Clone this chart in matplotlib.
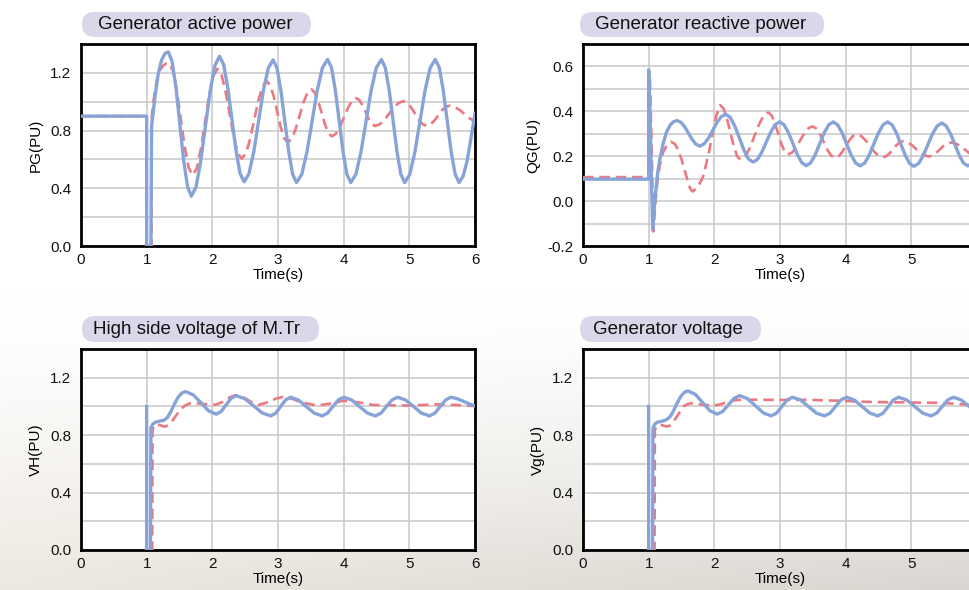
import numpy as np
import matplotlib
matplotlib.use('Agg')
import matplotlib.pyplot as plt
from matplotlib.patches import FancyBboxPatch
from matplotlib.ticker import MultipleLocator, FixedLocator, FormatStrFormatter

# Values (time in s, values in PU)
# "a" = solid blue curve, "b" = dashed red curve

# Generator active power
pg_a_t = [0, 1.0, 1.0, 1.065, 1.075, 1.10, 1.127, 1.178, 1.228, 1.28, 1.33,
          1.388, 1.447, 1.505, 1.563, 1.622, 1.68,
          1.752, 1.823, 1.895, 1.967, 2.038, 2.11,
          2.172, 2.235, 2.298, 2.36, 2.422, 2.485,
          2.558, 2.632, 2.705, 2.778, 2.852, 2.925,
          2.985, 3.044, 3.104, 3.164, 3.223, 3.283,
          3.362, 3.441, 3.52, 3.598, 3.677, 3.756,
          3.815, 3.873, 3.932, 3.991, 4.049, 4.108,
          4.186, 4.264, 4.342, 4.419, 4.497, 4.575,
          4.634, 4.693, 4.753, 4.812, 4.871, 4.93,
          5.008, 5.085, 5.163, 5.24, 5.318, 5.395,
          5.456, 5.516, 5.577, 5.637, 5.698, 5.758,
          5.82, 5.88, 5.94, 6.0]
pg_a_v = [0.9, 0.9, 0.0, 0.0, 0.83, 0.93, 1.035, 1.197, 1.29, 1.335, 1.345,
          1.278, 1.095, 0.845, 0.595, 0.412, 0.345,
          0.41, 0.588, 0.83, 1.073, 1.25, 1.315,
          1.257, 1.098, 0.88, 0.663, 0.503, 0.445,
          0.502, 0.656, 0.868, 1.079, 1.233, 1.29,
          1.233, 1.078, 0.865, 0.653, 0.497, 0.44,
          0.497, 0.653, 0.867, 1.08, 1.236, 1.293,
          1.236, 1.08, 0.867, 0.653, 0.497, 0.44,
          0.497, 0.653, 0.867, 1.08, 1.236, 1.293,
          1.236, 1.08, 0.867, 0.653, 0.497, 0.44,
          0.497, 0.653, 0.867, 1.08, 1.236, 1.293,
          1.236, 1.08, 0.867, 0.653, 0.497, 0.44,
          0.485, 0.59, 0.75, 0.92]
pg_b_t = [0, 1.0, 1.0, 1.072, 1.078, 1.10, 1.127, 1.16, 1.2, 1.25, 1.30, 1.34,
          1.40, 1.46, 1.52, 1.58, 1.64, 1.70,
          1.763, 1.826, 1.889, 1.952, 2.015, 2.078,
          2.14, 2.201, 2.263, 2.324, 2.386, 2.447,
          2.511, 2.574, 2.638, 2.701, 2.765, 2.828,
          2.881, 2.935, 2.988, 3.041, 3.095, 3.148,
          3.208, 3.268, 3.328, 3.387, 3.447, 3.507,
          3.559, 3.611, 3.664, 3.716, 3.768, 3.82,
          3.882, 3.943, 4.005, 4.067, 4.128, 4.19,
          4.238, 4.286, 4.334, 4.382, 4.43, 4.478,
          4.55, 4.622, 4.694, 4.766, 4.838, 4.91,
          4.969, 5.027, 5.086, 5.145, 5.203, 5.262,
          5.319, 5.376, 5.434, 5.491, 5.548, 5.605,
          5.68, 5.76, 5.84, 5.92, 6.0]
pg_b_v = [0.9, 0.9, 0.0, 0.0, 0.9, 0.99, 1.08, 1.16, 1.215, 1.25, 1.265, 1.268,
          1.216, 1.074, 0.879, 0.685, 0.542, 0.49,
          0.539, 0.675, 0.859, 1.044, 1.179, 1.228,
          1.186, 1.072, 0.917, 0.761, 0.647, 0.605,
          0.641, 0.74, 0.874, 1.009, 1.107, 1.143,
          1.115, 1.037, 0.931, 0.824, 0.746, 0.718,
          0.743, 0.81, 0.902, 0.994, 1.061, 1.086,
          1.064, 1.005, 0.923, 0.842, 0.782, 0.76,
          0.778, 0.826, 0.893, 0.959, 1.007, 1.025,
          1.012, 0.977, 0.929, 0.88, 0.845, 0.832,
          0.844, 0.875, 0.918, 0.961, 0.992, 1.004,
          0.992, 0.961, 0.918, 0.875, 0.844, 0.832,
          0.841, 0.867, 0.902, 0.937, 0.963, 0.972,
          0.965, 0.945, 0.915, 0.885, 0.86]

# Generator reactive power
qg_a_t = [0, 1.0, 1.0, 1.02, 1.04, 1.062,
          1.08, 1.11, 1.14, 1.17, 1.22, 1.27, 1.33, 1.38, 1.435,
          1.4925, 1.55, 1.6075, 1.665, 1.7225, 1.78,
          1.846, 1.912, 1.978, 2.043, 2.109, 2.175,
          2.244, 2.313, 2.383, 2.452, 2.521, 2.59,
          2.658, 2.725, 2.793, 2.86, 2.928, 2.995,
          3.063, 3.13, 3.198, 3.265, 3.333, 3.40,
          3.468, 3.537, 3.605, 3.673, 3.742, 3.81,
          3.878, 3.947, 4.015, 4.083, 4.152, 4.22,
          4.29, 4.36, 4.43, 4.5, 4.57, 4.64,
          4.707, 4.773, 4.84, 4.907, 4.973, 5.04,
          5.111, 5.182, 5.253, 5.323, 5.394, 5.465,
          5.531, 5.597, 5.663, 5.728, 5.794, 5.86,
          5.93, 6.0]
qg_a_v = [0.098, 0.098, 0.585, 0.40, 0.13, -0.128,
          -0.05, 0.05, 0.13, 0.186, 0.255, 0.306, 0.34, 0.354, 0.359,
          0.351, 0.331, 0.302, 0.274, 0.253, 0.245,
          0.255, 0.281, 0.316, 0.352, 0.377, 0.387,
          0.373, 0.334, 0.281, 0.227, 0.188, 0.174,
          0.186, 0.219, 0.264, 0.308, 0.341, 0.353,
          0.34, 0.304, 0.256, 0.207, 0.171, 0.158,
          0.171, 0.207, 0.256, 0.304, 0.34, 0.353,
          0.34, 0.304, 0.255, 0.206, 0.17, 0.157,
          0.17, 0.206, 0.255, 0.304, 0.34, 0.353,
          0.34, 0.304, 0.254, 0.205, 0.168, 0.155,
          0.168, 0.203, 0.252, 0.3, 0.335, 0.348,
          0.335, 0.3, 0.253, 0.205, 0.17, 0.157,
          0.17, 0.205]
qg_b_t = [0, 1.0, 1.005, 1.02, 1.045, 1.072,
          1.10, 1.13, 1.17, 1.22, 1.28, 1.34,
          1.40, 1.45, 1.50, 1.55, 1.60, 1.635, 1.67,
          1.72, 1.78, 1.83, 1.88, 1.93, 1.98, 2.03, 2.09,
          2.142, 2.193, 2.245, 2.297, 2.348, 2.40,
          2.47, 2.541, 2.611, 2.681, 2.752, 2.822,
          2.872, 2.921, 2.971, 3.021, 3.07, 3.12,
          3.183, 3.245, 3.308, 3.37, 3.433, 3.495,
          3.552, 3.609, 3.667, 3.724, 3.781, 3.838,
          3.893, 3.948, 4.003, 4.058, 4.113, 4.168,
          4.234, 4.3, 4.367, 4.433, 4.499, 4.565,
          4.617, 4.669, 4.721, 4.773, 4.825, 4.877,
          4.942, 5.006, 5.071, 5.136, 5.2, 5.265,
          5.321, 5.377, 5.433, 5.488, 5.544, 5.60,
          5.66, 5.72, 5.78, 5.84, 5.9, 6.0]
qg_b_v = [0.107, 0.107, 0.58, 0.55, 0.25, -0.135,
          -0.02, 0.08, 0.16, 0.217, 0.25, 0.264,
          0.255, 0.228, 0.187, 0.135, 0.085, 0.055, 0.043,
          0.055, 0.08, 0.11, 0.17, 0.235, 0.31, 0.38, 0.428,
          0.412, 0.367, 0.306, 0.245, 0.2, 0.184,
          0.198, 0.237, 0.29, 0.342, 0.381, 0.395,
          0.382, 0.348, 0.302, 0.255, 0.221, 0.208,
          0.216, 0.239, 0.271, 0.302, 0.325, 0.333,
          0.324, 0.298, 0.263, 0.228, 0.202, 0.193,
          0.2, 0.219, 0.246, 0.272, 0.291, 0.298,
          0.291, 0.272, 0.247, 0.221, 0.202, 0.195,
          0.2, 0.213, 0.231, 0.249, 0.262, 0.267,
          0.262, 0.25, 0.233, 0.216, 0.204, 0.199,
          0.203, 0.215, 0.23, 0.246, 0.257, 0.261,
          0.258, 0.25, 0.238, 0.224, 0.21, 0.196]

# High side voltage of M.Tr
vh_a_t = [1.0, 1.0, 1.058, 1.064, 1.09, 1.13, 1.2, 1.27, 1.32, 1.37, 1.42, 1.48, 1.54, 1.595,
          1.711, 1.828, 1.944, 2.06,
          2.135, 2.21, 2.285, 2.36,
          2.493, 2.625, 2.758, 2.89,
          2.965, 3.04, 3.115, 3.19,
          3.31, 3.431, 3.552, 3.672,
          3.754, 3.836, 3.918, 4.0,
          4.121, 4.242, 4.363, 4.484,
          4.568, 4.652, 4.736, 4.82,
          4.942, 5.064, 5.185, 5.307,
          5.389, 5.47, 5.552, 5.633,
          5.72, 5.81, 5.9, 6.0]
vh_a_v = [1.0, 0.0, 0.0, 0.85, 0.875, 0.89, 0.898, 0.905, 0.925, 0.965, 1.015, 1.065, 1.095, 1.103,
          1.08, 1.025, 0.969, 0.946,
          0.965, 1.011, 1.056, 1.075,
          1.054, 1.005, 0.955, 0.934,
          0.953, 0.999, 1.045, 1.064,
          1.045, 0.999, 0.953, 0.934,
          0.953, 0.999, 1.045, 1.064,
          1.045, 0.999, 0.953, 0.934,
          0.953, 0.999, 1.045, 1.064,
          1.045, 0.999, 0.953, 0.934,
          0.953, 0.999, 1.045, 1.064,
          1.055, 1.038, 1.02, 1.003]
vh_b_t = [1.0, 1.0, 1.085, 1.09, 1.13, 1.2, 1.26, 1.3, 1.35, 1.4, 1.46, 1.51, 1.58, 1.66,
          1.8, 1.91, 2.05, 2.15, 2.25, 2.345, 2.45, 2.58, 2.7, 2.85, 2.97, 3.08, 3.2,
          3.35, 3.59, 3.8, 4.0, 4.2, 4.45, 4.7, 4.96, 5.2, 5.47, 5.7, 6.0]
vh_b_v = [1.0, 0.0, 0.0, 0.84, 0.875, 0.87, 0.86, 0.862, 0.88, 0.906, 0.945, 0.976, 1.005, 1.022,
          1.02, 1.015, 1.012, 1.03, 1.06, 1.078, 1.068, 1.035, 1.01, 1.03, 1.055, 1.066, 1.055,
          1.03, 1.006, 1.02, 1.04, 1.03, 1.01, 1.008, 1.006, 1.01, 1.015, 1.01, 1.003]

# Generator voltage
vg_a_t = [1.0, 1.0, 1.06, 1.066, 1.09, 1.13, 1.23, 1.28, 1.33, 1.38, 1.43, 1.49, 1.55, 1.60,
          1.711, 1.822, 1.932, 2.043,
          2.129, 2.214, 2.3, 2.385,
          2.505, 2.626, 2.746, 2.866,
          2.947, 3.028, 3.109, 3.19,
          3.312, 3.434, 3.556, 3.678,
          3.762, 3.845, 3.929, 4.012,
          4.132, 4.251, 4.371, 4.49,
          4.569, 4.648, 4.726, 4.805,
          4.929, 5.053, 5.176, 5.30,
          5.385, 5.47, 5.555, 5.64,
          5.76, 5.88, 6.0]
vg_a_v = [1.0, 0.0, 0.0, 0.85, 0.875, 0.89, 0.9, 0.91, 0.93, 0.97, 1.02, 1.07, 1.1, 1.108,
          1.084, 1.027, 0.97, 0.946,
          0.965, 1.011, 1.056, 1.075,
          1.054, 1.005, 0.955, 0.934,
          0.953, 0.999, 1.045, 1.064,
          1.045, 0.999, 0.953, 0.934,
          0.953, 0.999, 1.045, 1.064,
          1.045, 0.999, 0.953, 0.934,
          0.953, 0.999, 1.045, 1.064,
          1.045, 0.999, 0.953, 0.934,
          0.953, 0.999, 1.045, 1.064,
          1.045, 1.0, 0.957]
vg_b_t = [1.0, 1.0, 1.09, 1.095, 1.14, 1.2, 1.27, 1.32, 1.38, 1.43, 1.48, 1.53, 1.6, 1.66,
          1.8, 1.99, 2.1, 2.2, 2.34, 2.6, 3.0, 3.4, 3.7, 4.01, 4.3, 4.52, 5.03, 5.43, 5.7,
          5.89, 6.0]
vg_b_v = [1.0, 0.0, 0.0, 0.84, 0.87, 0.87, 0.86, 0.865, 0.895, 0.93, 0.965, 1.0, 1.018, 1.022,
          1.013, 1.006, 1.015, 1.032, 1.045, 1.047, 1.045, 1.046, 1.042, 1.038, 1.032, 1.03,
          1.027, 1.025, 1.018, 1.01, 1.003]

# x tick labels: the right panels run off the picture, so their "6" is not shown
x_ticks_full = [0, 1, 2, 3, 4, 5, 6]
x_ticks_cut = [0, 1, 2, 3, 4, 5]

blue = '#87a3d8'
red = '#ec7881'
box_color = '#dcd6ea'

plt.rcParams['font.family'] = ['Liberation Sans', 'DejaVu Sans']
plt.rcParams['axes.unicode_minus'] = False

fig = plt.figure(figsize=(9.7, 5.9), dpi=100)

# faint warm backdrop towards the bottom of the picture
bg = fig.add_axes([0, 0, 1, 1], zorder=-1)
yy = np.linspace(0, 1, 590)[:, None, None]
xx = np.linspace(0, 1, 970)[None, :, None]
fade = np.clip((yy - 0.5) / 0.5, 0, 1) ** 1.4
left_col = np.array([0.93, 0.91, 0.88])
right_col = np.array([0.85, 0.84, 0.82])
base = left_col * (1 - xx) + right_col * xx
bg.imshow(1 - fade * (1 - base), aspect='auto', extent=[0, 1, 0, 1], origin='upper')
bg.axis('off')


def panel(rect, t_a, v_a, t_b, v_b, ylim, major, minor, ylabel, xticks):
    ax = fig.add_axes(rect)
    ax.set_facecolor('white')
    ax.plot(t_b, v_b, color=red, lw=1.9, dashes=(4, 2.2), zorder=3)
    ax.plot(t_a, v_a, color=blue, lw=2.4, zorder=4)
    ax.set_xlim(0, 6)
    ax.set_ylim(*ylim)
    ax.xaxis.set_major_locator(FixedLocator(xticks))
    ax.yaxis.set_major_locator(MultipleLocator(major))
    ax.yaxis.set_minor_locator(MultipleLocator(minor))
    ax.yaxis.set_major_formatter(FormatStrFormatter('%.1f'))
    ax.grid(True, which='both', color='#c8c8c8', lw=1.1)
    ax.set_axisbelow(True)
    ax.tick_params(which='both', length=0, labelsize=11, colors='#111111')
    ax.tick_params(axis='x', pad=5)
    ax.tick_params(axis='y', pad=7)
    for s in ax.spines.values():
        s.set_linewidth(2)
        s.set_color('black')
    ax.set_xlabel('Time(s)', fontsize=11, labelpad=1)
    ax.set_ylabel(ylabel, fontsize=11, labelpad=5)
    return ax


def title_box(x, y, w, h, text_x, text):
    # rounded label above each panel (inches from bottom-left)
    box = FancyBboxPatch((x, y), w, h, boxstyle='round,pad=0,rounding_size=%f' % (h / 2),
                         transform=fig.dpi_scale_trans, fc=box_color, ec='none')
    fig.add_artist(box)
    fig.text(text_x, y + h / 2, text, transform=fig.dpi_scale_trans, fontsize=13.5,
             va='center', ha='left', color='#111111')


w_ax = 0.4062
panel([0.0835, 0.583, w_ax, 0.3424], pg_a_t, pg_a_v, pg_b_t, pg_b_v, (0, 1.4), 0.4, 0.2,
      'PG(PU)', x_ticks_full)
panel([0.601, 0.583, w_ax, 0.3424], qg_a_t, qg_a_v, qg_b_t, qg_b_v, (-0.2, 0.7), 0.2, 0.1,
      'QG(PU)', x_ticks_cut)
panel([0.0835, 0.0678, w_ax, 0.3407], vh_a_t, vh_a_v, vh_b_t, vh_b_v, (0, 1.4), 0.4, 0.2,
      'VH(PU)', x_ticks_full)
panel([0.601, 0.0678, w_ax, 0.3407], vg_a_t, vg_a_v, vg_b_t, vg_b_v, (0, 1.4), 0.4, 0.2,
      'Vg(PU)', x_ticks_cut)

title_box(0.82, 5.53, 2.29, 0.25, 0.98, 'Generator active power')
title_box(5.80, 5.53, 2.44, 0.25, 5.95, 'Generator reactive power')
title_box(0.82, 2.48, 2.37, 0.26, 0.93, 'High side voltage of M.Tr')
title_box(5.80, 2.48, 1.81, 0.26, 5.93, 'Generator voltage')

fig.savefig('out.png', dpi=100)
